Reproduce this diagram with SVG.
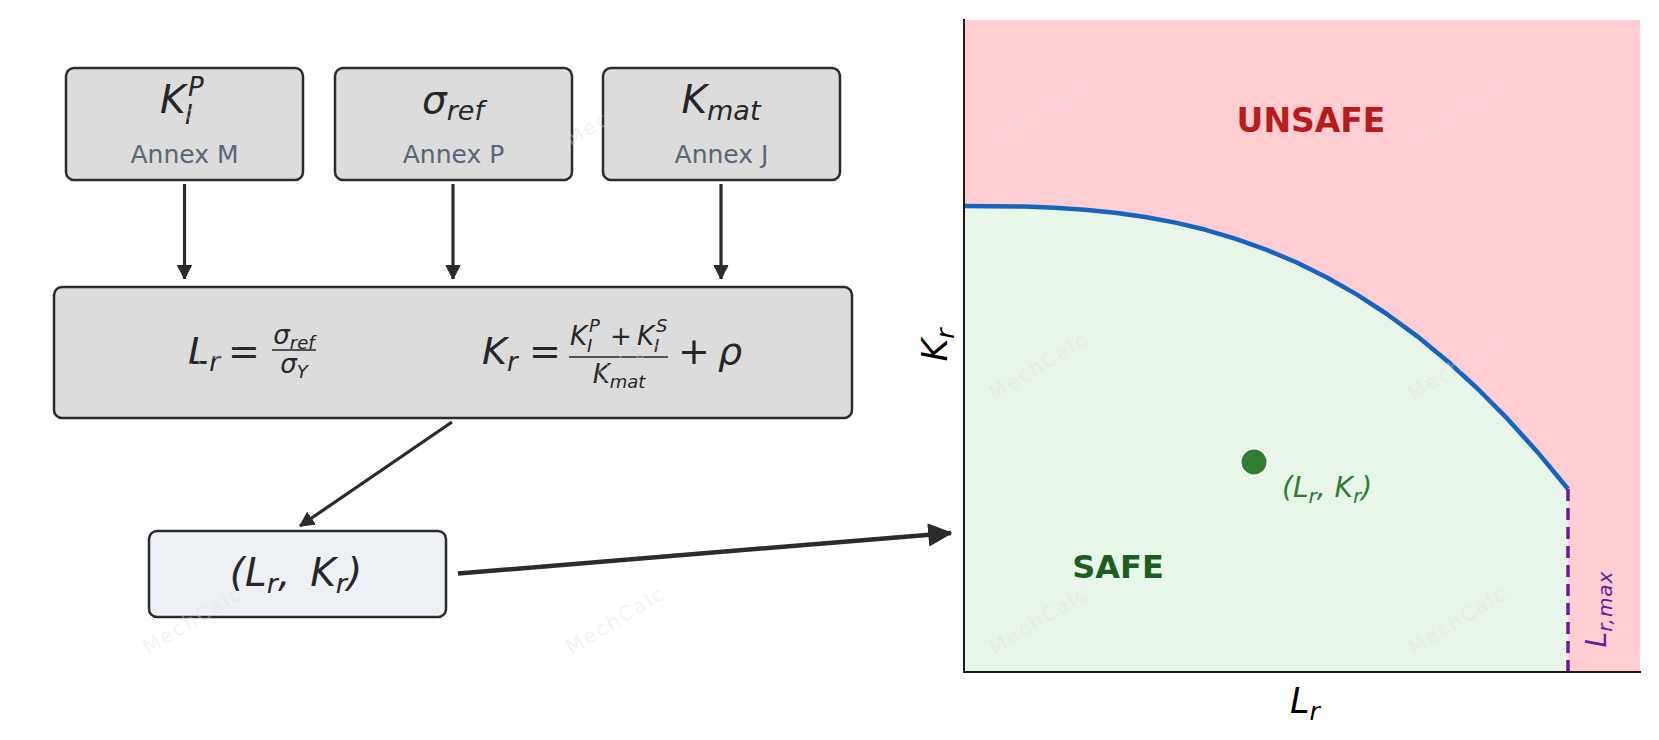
<svg xmlns="http://www.w3.org/2000/svg" width="1659" height="740" viewBox="0 0 1659 740">
<style>
  text { font-family: "DejaVu Sans", "Liberation Sans", sans-serif; }
  .box { fill: #dcdcdc; stroke: #2b2b2b; stroke-width: 2.5; }
  .box2 { fill: #edf0f5; stroke: #2b2b2b; stroke-width: 2.5; }
  .m { font-style: italic; fill: #262626; }
  .n { font-style: normal; fill: #262626; }
  .annex { font-size: 25px; fill: #5a6678; text-anchor: middle; }
  .conn { stroke: #2b2b2b; stroke-width: 3.2; fill: none; }
  .wm { font-size: 20px; fill: #dedede; fill-opacity: 0.4; letter-spacing: 2px; text-anchor: middle; }
</style>
<defs>
  <marker id="ah" markerUnits="userSpaceOnUse" markerWidth="18" markerHeight="18" refX="14" refY="7.5" orient="auto">
    <path d="M0.5,0.5 L14,7.5 L0.5,14.5 z" fill="#2b2b2b" stroke="#2b2b2b" stroke-width="1" stroke-linejoin="round"/>
  </marker>
  <marker id="ahBig" markerUnits="userSpaceOnUse" markerWidth="26" markerHeight="26" refX="23" refY="11.5" orient="auto">
    <path d="M1,1 L23,11.5 L1,22 z" fill="#2b2b2b" stroke="#2b2b2b" stroke-width="1.5" stroke-linejoin="round"/>
  </marker>
</defs>
<rect width="1659" height="740" fill="#ffffff"/>

<!-- plot -->
<g id="plot">
  <rect x="964" y="20" width="676" height="652" fill="#ffcdd2"/>
  <path d="M964,672 L964,206 L1024.4,206.6 L1054.6,207.7 L1084.8,209.7 L1115,212.7 L1145.2,217 L1175.4,222.6 L1205.6,229.8 L1235.8,238.8 L1266,249.6 L1296.2,262.3 L1326.4,277.3 L1356.6,294.4 L1386.8,314 L1417,336.1 L1447.2,360.9 L1477.4,388.5 L1507.6,418.9 L1537.8,452.4 L1568,489 L1568,672 Z" fill="#e8f5e9"/>
  <path d="M964,206 L1024.4,206.6 L1054.6,207.7 L1084.8,209.7 L1115,212.7 L1145.2,217 L1175.4,222.6 L1205.6,229.8 L1235.8,238.8 L1266,249.6 L1296.2,262.3 L1326.4,277.3 L1356.6,294.4 L1386.8,314 L1417,336.1 L1447.2,360.9 L1477.4,388.5 L1507.6,418.9 L1537.8,452.4 L1568,489" fill="none" stroke="#1565c0" stroke-width="4.5" stroke-linejoin="round"/>
  <line x1="1568" y1="489" x2="1568" y2="672" stroke="#6a1b9a" stroke-width="3.5" stroke-dasharray="12,7"/>
  <line x1="964" y1="19" x2="964" y2="673" stroke="#1a1a1a" stroke-width="2"/>
  <line x1="963" y1="672" x2="1641" y2="672" stroke="#1a1a1a" stroke-width="2"/>
  <text x="1311" y="132" font-size="33" font-weight="bold" fill="#b71c1c" text-anchor="middle">UNSAFE</text>
  <text x="1118" y="578" font-size="32" font-weight="bold" fill="#1b5e20" text-anchor="middle">SAFE</text>
  <circle cx="1254" cy="462" r="13.5" fill="#2e7d32" stroke="#ffffff" stroke-width="2"/>
  <text x="1282" y="497" font-size="28" font-style="italic" fill="#2e7d32">(L<tspan font-size="20" dy="6">r</tspan><tspan dy="-6">, K</tspan><tspan font-size="20" dy="6">r</tspan><tspan dy="-6">)</tspan></text>
  <text transform="translate(1606,609) rotate(-90)" font-size="28" font-style="italic" fill="#6a1b9a" text-anchor="middle">L<tspan font-size="20" dy="6" letter-spacing="1">r,max</tspan></text>
  <text x="1305" y="713" font-size="35" class="m" text-anchor="middle" style="fill:#000">L<tspan font-size="25" dy="7">r</tspan></text>
  <text transform="translate(947,345) rotate(-90)" font-size="35" class="m" text-anchor="middle" style="fill:#000">K<tspan font-size="25" dy="7">r</tspan></text>
</g>

<!-- top boxes -->
<g id="node-kip">
  <rect class="box" x="66" y="68" width="237" height="112" rx="8"/>
  <text x="160" y="113" font-size="39" class="m">K</text>
  <text x="188" y="96" font-size="26" class="m">P</text>
  <text x="185" y="124" font-size="26" class="m">I</text>
  <text x="184.5" y="163" class="annex">Annex M</text>
</g>
<g id="node-sigref">
  <rect class="box" x="335" y="68" width="237" height="112" rx="8"/>
  <text x="453" y="113" font-size="39" class="m" text-anchor="middle">σ<tspan font-size="27" dy="7">ref</tspan></text>
  <text x="453.5" y="163" class="annex">Annex P</text>
</g>
<g id="node-kmat">
  <rect class="box" x="603" y="68" width="237" height="112" rx="8"/>
  <text x="721" y="113" font-size="39" class="m" text-anchor="middle">K<tspan font-size="27" dy="7">mat</tspan></text>
  <text x="721.5" y="163" class="annex">Annex J</text>
</g>

<!-- formula box -->
<g id="node-formulas">
  <rect class="box" x="54" y="287" width="798" height="131" rx="8"/>
  <text x="188" y="364" font-size="38" class="m">L<tspan font-size="26" dy="7">r</tspan></text>
  <text x="244" y="364" font-size="38" class="n" text-anchor="middle">=</text>
  <text x="294" y="344" font-size="26" class="m" text-anchor="middle">σ<tspan font-size="18" dy="5">ref</tspan></text>
  <line x1="272" y1="350" x2="316" y2="350" stroke="#262626" stroke-width="1.6"/>
  <text x="294" y="373" font-size="26" class="m" text-anchor="middle">σ<tspan font-size="18" dy="5">Y</tspan></text>

  <text x="482" y="364" font-size="38" class="m">K<tspan font-size="26" dy="7">r</tspan></text>
  <text x="545" y="364" font-size="38" class="n" text-anchor="middle">=</text>
  <text x="570" y="345" font-size="26" class="m">K</text>
  <text x="589" y="332" font-size="18" class="m">P</text>
  <text x="587" y="352" font-size="18" class="m">I</text>
  <text x="621" y="345" font-size="26" class="n" text-anchor="middle">+</text>
  <text x="637" y="345" font-size="26" class="m">K</text>
  <text x="656" y="332" font-size="18" class="m">S</text>
  <text x="654" y="352" font-size="18" class="m">I</text>
  <line x1="569" y1="357" x2="668" y2="357" stroke="#262626" stroke-width="1.6"/>
  <text x="619" y="383" font-size="26" class="m" text-anchor="middle">K<tspan font-size="18" dy="5">mat</tspan></text>
  <text x="694" y="364" font-size="38" class="n" text-anchor="middle">+</text>
  <text x="718" y="364" font-size="38" class="m">ρ</text>
</g>

<!-- result box -->
<g id="node-point">
  <rect class="box2" x="149" y="531" width="297" height="86" rx="8"/>
  <text x="296" y="586" font-size="39" class="m" text-anchor="middle">(L<tspan font-size="27" dy="7">r</tspan><tspan dy="-7">,</tspan><tspan dx="20">K</tspan><tspan font-size="27" dy="7">r</tspan><tspan dy="-7">)</tspan></text>
</g>

<!-- connectors -->
<g id="connectors">
  <line class="conn" x1="184.5" y1="184" x2="184.5" y2="279" marker-end="url(#ah)"/>
  <line class="conn" x1="453" y1="184" x2="453" y2="279" marker-end="url(#ah)"/>
  <line class="conn" x1="721" y1="184" x2="721" y2="279" marker-end="url(#ah)"/>
  <line class="conn" x1="452" y1="422" x2="300" y2="526" marker-end="url(#ah)"/>
  <line x1="458" y1="573.5" x2="951" y2="533" stroke="#2b2b2b" stroke-width="4.5" marker-end="url(#ahBig)"/>
</g>

<!-- watermarks -->
<g id="watermarks">
  <text class="wm" transform="translate(196,118) rotate(-31)">MechCalc</text>
  <text class="wm" transform="translate(619,118) rotate(-31)">MechCalc</text>
  <text class="wm" transform="translate(1042,118) rotate(-31)">MechCalc</text>
  <text class="wm" transform="translate(1461,118) rotate(-31)">MechCalc</text>
  <text class="wm" transform="translate(196,372) rotate(-31)">MechCalc</text>
  <text class="wm" transform="translate(619,372) rotate(-31)">MechCalc</text>
  <text class="wm" transform="translate(1042,372) rotate(-31)">MechCalc</text>
  <text class="wm" transform="translate(1461,372) rotate(-31)">MechCalc</text>
  <text class="wm" transform="translate(196,626) rotate(-31)">MechCalc</text>
  <text class="wm" transform="translate(619,626) rotate(-31)">MechCalc</text>
  <text class="wm" transform="translate(1042,626) rotate(-31)">MechCalc</text>
  <text class="wm" transform="translate(1461,626) rotate(-31)">MechCalc</text>
</g>
</svg>
